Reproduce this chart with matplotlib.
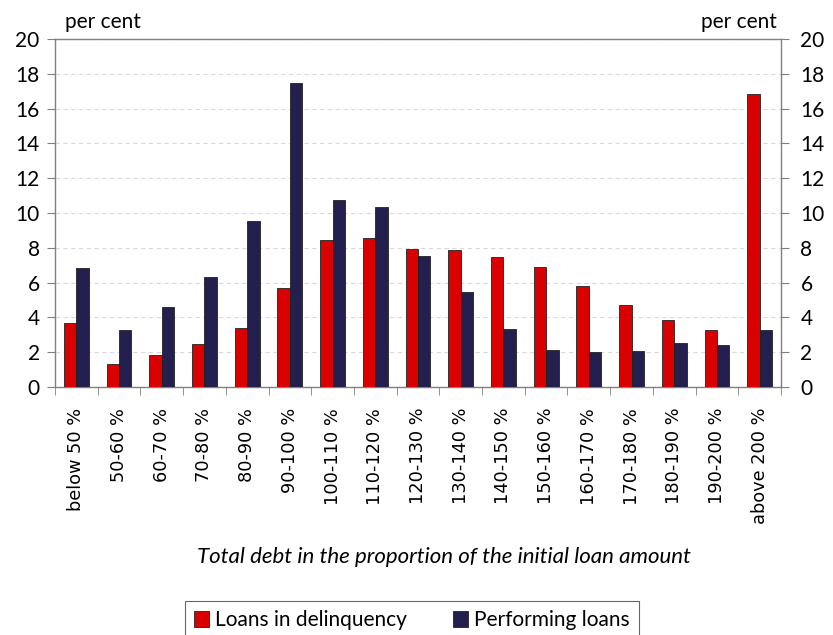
import matplotlib
matplotlib.use("Agg")
import matplotlib.pyplot as plt
import numpy as np

categories = ["below 50 %", "50-60 %", "60-70 %", "70-80 %", "80-90 %", "90-100 %",
              "100-110 %", "110-120 %", "120-130 %", "130-140 %", "140-150 %",
              "150-160 %", "160-170 %", "170-180 %", "180-190 %", "190-200 %", "above 200 %"]
delinquent = [3.7, 1.3, 1.85, 2.45, 3.4, 5.7, 8.45, 8.55, 7.95, 7.85, 7.5, 6.9, 5.8, 4.7, 3.85, 3.25, 16.85]
performing = [6.85, 3.25, 4.6, 6.3, 9.55, 17.45, 10.75, 10.35, 7.55, 5.45, 3.35, 2.15, 2.0, 2.05, 2.55, 2.4, 3.3]
yticks = [0, 2, 4, 6, 8, 10, 12, 14, 16, 18, 20]

RED = "#D90000"
NAVY = "#232050"
GRID = "#d9d9d9"
SPINE = "#808080"
FONT = "Lato"

fig = plt.figure(figsize=(8.33, 6.35), dpi=100)
ax = fig.add_axes([55/833, 1-387/635, (781-55)/833, (387-39)/635])

x = np.arange(len(categories))
w = 0.29
ax.bar(x - w/2, delinquent, w, color=RED, edgecolor="#222222", linewidth=0.6,
       label="Loans in delinquency", zorder=3)
ax.bar(x + w/2, performing, w, color=NAVY, edgecolor="#222222", linewidth=0.6,
       label="Performing loans", zorder=3)

ax.set_xlim(-0.5, len(categories) - 0.5)
ax.set_ylim(0, 20)
ax.set_yticks(yticks)
ax.set_yticklabels([str(t) for t in yticks], fontsize=15, family=FONT)
ax.yaxis.grid(True, color=GRID, linestyle=(0, (4, 3)), linewidth=0.8, zorder=0)
ax.tick_params(axis="y", direction="out", length=6, color=SPINE, pad=5)

ax.set_xticks(x)
ax.set_xticklabels(categories, rotation=90, fontsize=12.8, family="DejaVu Sans")
ax.tick_params(axis="x", length=0, pad=15)
ax.set_xticks(np.arange(-0.5, len(categories), 1.0), minor=True)
ax.tick_params(axis="x", which="minor", direction="out", length=6, color=SPINE)

for s in ax.spines.values():
    s.set_color(SPINE)
    s.set_linewidth(1.0)

ax2 = ax.twinx()
ax2.set_ylim(0, 20)
ax2.set_yticks(yticks)
ax2.set_yticklabels([str(t) for t in yticks], fontsize=15, family=FONT)
ax2.tick_params(axis="y", direction="out", length=6, color=SPINE, pad=8)
for s in ax2.spines.values():
    s.set_visible(False)

fig.text(65/833, 1-22/635, "per cent", fontsize=15, family=FONT, ha="left", va="center")
fig.text(777/833, 1-22/635, "per cent", fontsize=15, family=FONT, ha="right", va="center")

fig.text(444/833, 1-557/635, "Total debt in the proportion of the initial loan amount",
         fontsize=16, family=FONT, style="italic", ha="center", va="center")

h, l = ax.get_legend_handles_labels()
leg = fig.legend(h, l, loc="upper center", bbox_to_anchor=(412/833, 1-601/635), ncol=2,
                 frameon=True, fancybox=False, edgecolor="#404040",
                 prop={"family": FONT, "size": 15}, handlelength=0.7, handleheight=0.8,
                 handletextpad=0.3, columnspacing=2.2, borderpad=0.45, borderaxespad=0)
leg.get_frame().set_linewidth(0.8)

fig.savefig("out.png", dpi=100)
